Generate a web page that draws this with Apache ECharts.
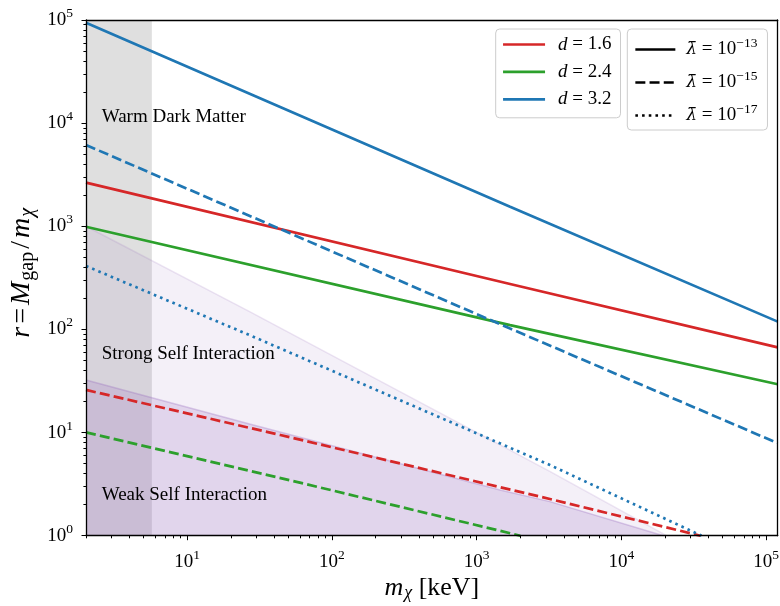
<!DOCTYPE html>
<html>
<head>
<meta charset="utf-8">
<script src="https://cdn.jsdelivr.net/npm/echarts@6/dist/echarts.min.js"></script>
<style>
  html, body { margin: 0; padding: 0; background: #ffffff; }
  #chart { width: 780px; height: 606px; }
</style>
</head>
<body>
<div id="chart"></div>
<script>
// Gap-to-mass ratio r = M_gap / m_chi as a function of m_chi [keV]

const xRange = [2, 1.2e5];
const yRange = [1, 1e5];
const xTickValues = [10, 100, 1000, 10000, 100000];
const yTickValues = [1, 10, 100, 1000, 10000, 100000];

// warm dark matter exclusion [keV]
const wdmBand = [2, 5.7];

// upper edges of the self-interaction regions
const strongEdge = [[2, 1000], [27, 149], [3200, 4.2], [20500, 1]];
const weakEdge = [[2, 32.4], [27, 12.1], [1450, 2.77], [3200, 2.14], [19500, 1]];

// lambda-bar = 1e-13
const d16Lam13 = [[2, 2650], [1700, 276], [1.2e5, 67]];
const d24Lam13 = [[2, 990], [1700, 110], [1.2e5, 29.4]];
const d32Lam13 = [[2, 94000], [1700, 1550], [1.2e5, 119]];
// lambda-bar = 1e-15
const d16Lam15 = [[2, 25.9], [44, 9.47], [3200, 2.27], [35000, 1]];
const d24Lam15 = [[2, 10.05], [60, 3.27], [2000, 1]];
const d32Lam15 = [[2, 6140], [1700, 102], [1.2e5, 7.9]];
// lambda-bar = 1e-17
const d32Lam17 = [[2, 412], [27, 88], [3200, 4.85], [35700, 1]];

const dLabels = ['1.6', '2.4', '3.2'];
const lambdaExponents = ['−13', '−15', '−17'];

const regionLabels = [
  { name: 'Warm Dark Matter', value: [2.57, 11400] },
  { name: 'Strong Self Interaction', value: [2.57, 57.8] },
  { name: 'Weak Self Interaction', value: [2.57, 2.48] }
];

const COLORS = { d16: '#d62728', d24: '#2ca02c', d32: '#1f77b4' };
const SOLID = 'solid';
const DASHED = [10, 4.2];
const DOTTED = [2.6, 4.1];
const SERIF = "'Liberation Serif', 'DejaVu Serif', 'Times New Roman', serif";
const LW = 2.7;

function minorTicks(lo, hi) {
  const out = [];
  for (let e = Math.floor(Math.log10(lo)); e <= Math.ceil(Math.log10(hi)); e++) {
    for (let m = 2; m <= 9; m++) {
      const v = m * Math.pow(10, e);
      if (v >= lo && v <= hi) out.push(v);
    }
  }
  return out;
}

const powLabel = v => '{b|10}{s|' + Math.round(Math.log10(v)) + '}';
const tickRich = {
  b: { fontFamily: SERIF, fontSize: 19, color: '#000' },
  s: { fontFamily: SERIF, fontSize: 13.5, color: '#000', padding: [0, 0, 13, 0] }
};

function majorAxis(range, ticks, extra) {
  return Object.assign({
    type: 'log', logBase: 10, min: range[0], max: range[1], z: 10,
    axisLine: { show: true, onZero: false, lineStyle: { color: '#000', width: 1.3 } },
    axisTick: { show: true, customValues: ticks, length: 4.5, lineStyle: { color: '#000', width: 1 } },
    axisLabel: { show: true, customValues: ticks, formatter: powLabel, rich: tickRich, margin: 13 },
    splitLine: { show: false }, minorTick: { show: false }, minorSplitLine: { show: false }
  }, extra || {});
}
function minorAxis(range, extra) {
  return Object.assign({
    type: 'log', logBase: 10, min: range[0], max: range[1], z: 10,
    axisLine: { show: false },
    axisTick: { show: true, customValues: minorTicks(range[0], range[1]), length: 2.6, lineStyle: { color: '#000', width: 1 } },
    axisLabel: { show: false }, splitLine: { show: false }
  }, extra || {});
}
function frameAxis(range, extra) {
  return Object.assign({
    type: 'log', logBase: 10, min: range[0], max: range[1], z: 10,
    axisLine: { show: true, onZero: false, lineStyle: { color: '#000', width: 1.3 } },
    axisTick: { show: false }, axisLabel: { show: false }, splitLine: { show: false }
  }, extra || {});
}

function curve(name, data, color, type, z) {
  return {
    name, type: 'line', data, xAxisIndex: 0, yAxisIndex: 0,
    symbol: 'none', smooth: false, silent: true, clip: true, z: z || 5,
    lineStyle: { color, width: LW, type, cap: 'butt' }, itemStyle: { color }
  };
}
function legendEntry(name, color, type) {
  return {
    name, type: 'line', data: [], symbol: 'none', silent: true,
    lineStyle: { color, width: LW, type }, itemStyle: { color }
  };
}
function region(name, data, fill, edge, z) {
  return {
    name, type: 'line', data, symbol: 'none', silent: true, clip: true, z,
    lineStyle: { color: edge, width: 1.5 },
    areaStyle: { color: fill, origin: 'start', opacity: 1 }
  };
}

const lamNames = ['lam13', 'lam15', 'lam17'];
const dNames = ['d16', 'd24', 'd32'];

const legendRich = {
  i: { fontFamily: SERIF, fontStyle: 'italic', fontSize: 19, color: '#000' },
  t: { fontFamily: SERIF, fontSize: 19, color: '#000' },
  s: { fontFamily: SERIF, fontSize: 13.5, color: '#000', padding: [0, 0, 12, 0] },
  l: { fontFamily: "'DejaVu Serif', serif", fontStyle: 'italic', fontSize: 17, color: '#000', padding: [0, 0, 0, 6] }
};

const option = {
  animation: false,
  backgroundColor: '#ffffff',
  grid: { left: 86, right: 2.3, top: 20, bottom: 70.3, containLabel: false, outerBoundsMode: 'none' },
  xAxis: [
    majorAxis(xRange, xTickValues, {
      position: 'bottom',
      name: '{i|m}{x|χ}{t| [keV]}',
      nameLocation: 'middle', nameGap: 37, nameMoveOverlap: false,
      nameTextStyle: {
        rich: {
          i: { fontFamily: SERIF, fontStyle: 'italic', fontSize: 26, color: '#000' },
          x: { fontFamily: SERIF, fontStyle: 'italic', fontSize: 18, color: '#000', padding: [12, 0, 0, 1] },
          t: { fontFamily: SERIF, fontSize: 26, color: '#000' }
        }
      }
    }),
    minorAxis(xRange, { position: 'bottom' }),
    frameAxis(xRange, { position: 'top' })
  ],
  yAxis: [
    majorAxis(yRange, yTickValues, {
      position: 'left',
      name: '{i|r}{t|=}{i|M}{g|gap}{t|/}{i|m}{x|χ}',
      nameLocation: 'middle', nameRotate: 90, nameGap: 48, nameMoveOverlap: false,
      nameTextStyle: {
        padding: [0, 0, 0, 10],
        rich: {
          i: { fontFamily: SERIF, fontStyle: 'italic', fontSize: 28, color: '#000' },
          t: { fontFamily: SERIF, fontSize: 28, color: '#000', padding: [0, 3, 0, 3] },
          g: { fontFamily: SERIF, fontSize: 20, color: '#000', padding: [12, 0, 0, 1] },
          x: { fontFamily: SERIF, fontStyle: 'italic', fontSize: 20, color: '#000', padding: [12, 0, 0, 1] }
        }
      }
    }),
    minorAxis(yRange, { position: 'left' }),
    frameAxis(yRange, { position: 'right' })
  ],
  legend: [
    {
      data: dNames, orient: 'vertical', left: 495.7, top: 29,
      itemWidth: 42, itemHeight: 14, itemGap: 8.4,
      padding: [6, 9, 9, 6], selectedMode: false,
      backgroundColor: 'rgba(255,255,255,0.8)', borderColor: '#cccccc', borderWidth: 1, borderRadius: 4,
      lineStyle: { width: LW }, itemStyle: { opacity: 0 },
      formatter: n => '{i|d}{t| = ' + dLabels[dNames.indexOf(n)] + '}',
      textStyle: { rich: Object.assign({}, legendRich, { i: Object.assign({}, legendRich.i, { padding: [0, 0, 0, 8] }) }) }
    },
    {
      data: lamNames, orient: 'vertical', left: 627.3, top: 29,
      itemWidth: 40, itemHeight: 14, itemGap: 10.5,
      padding: [7.5, 10, 5, 6.7], selectedMode: false,
      backgroundColor: 'rgba(255,255,255,0.8)', borderColor: '#cccccc', borderWidth: 1, borderRadius: 4,
      lineStyle: { width: LW }, itemStyle: { opacity: 0 },
      formatter: n => '{l|λ̄}{t| = 10}{s|' + lambdaExponents[lamNames.indexOf(n)] + '}',
      textStyle: { rich: legendRich }
    }
  ],
  series: [
    {
      name: 'wdm', type: 'line', silent: true, symbol: 'none', z: 1,
      data: [[wdmBand[0], yRange[1]], [wdmBand[1], yRange[1]]],
      lineStyle: { width: 0 },
      areaStyle: { color: 'rgba(128,128,128,0.25)', origin: 'start', opacity: 1 }
    },
    region('strong', strongEdge, 'rgba(148,103,189,0.1)', 'rgba(148,103,189,0.16)', 2),
    region('weak', weakEdge, 'rgba(148,103,189,0.2)', 'rgba(148,103,189,0.3)', 3),

    curve('d16-13', d16Lam13, COLORS.d16, SOLID),
    curve('d24-13', d24Lam13, COLORS.d24, SOLID),
    curve('d32-13', d32Lam13, COLORS.d32, SOLID),
    curve('d16-15', d16Lam15, COLORS.d16, DASHED),
    curve('d24-15', d24Lam15, COLORS.d24, DASHED),
    curve('d32-15', d32Lam15, COLORS.d32, DASHED),
    curve('d32-17', d32Lam17, COLORS.d32, DOTTED),

    legendEntry('d16', COLORS.d16, SOLID),
    legendEntry('d24', COLORS.d24, SOLID),
    legendEntry('d32', COLORS.d32, SOLID),
    legendEntry('lam13', '#000000', SOLID),
    legendEntry('lam15', '#000000', DASHED),
    legendEntry('lam17', '#000000', DOTTED),

    {
      name: 'regions', type: 'scatter', silent: true, symbolSize: 0, z: 8,
      data: regionLabels,
      label: {
        show: true, position: [0, 0], align: 'left', verticalAlign: 'middle',
        formatter: p => p.name,
        fontFamily: SERIF, fontSize: 19, color: '#000000',
        textBorderWidth: 0, opacity: 1
      }
    }
  ]
};

const chart = echarts.init(document.getElementById('chart'), null, { renderer: 'canvas' });
chart.setOption(option);
</script>
</body>
</html>
